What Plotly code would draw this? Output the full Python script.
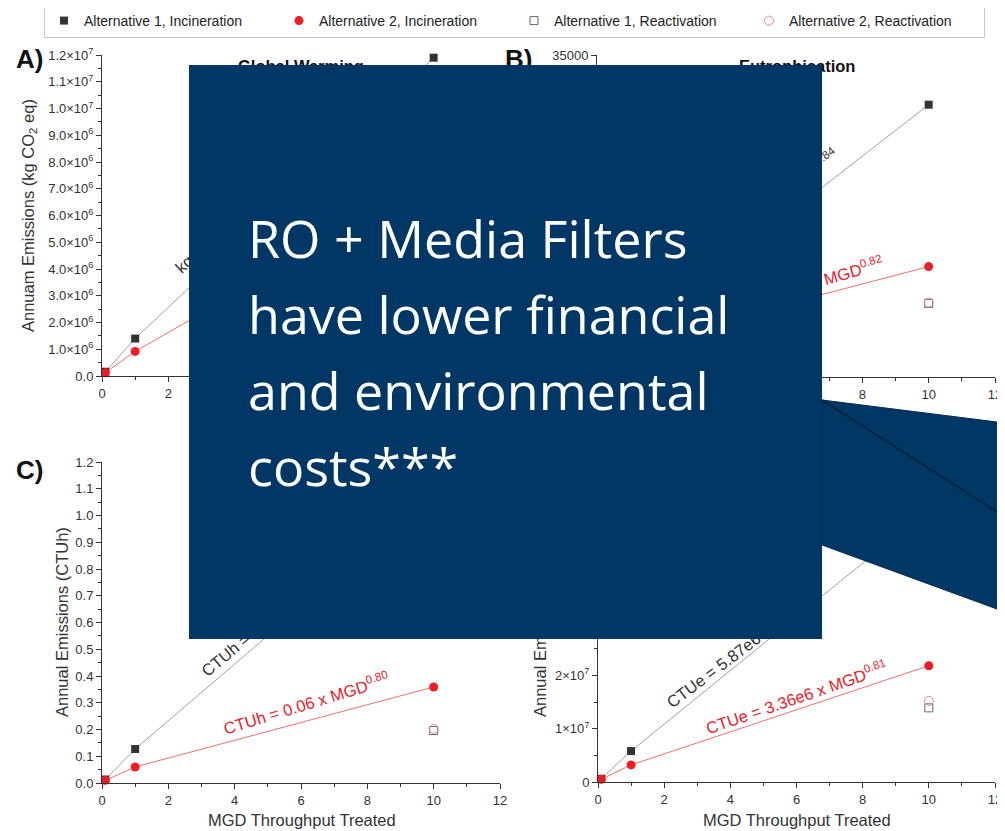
import plotly.graph_objects as go

# the page body keeps its default 8px margin, so the figure is drawn 8px in
OFF = 8
W, H = 1005 - OFF, 831 - OFF

# throughput (MGD) at which each alternative was evaluated
mgd = [0.1, 1, 10]
mgd_react = [10]

# A) Global Warming, kg CO2 eq per year
gw_alt1_inc = [1.6e5, 1.40e6, 1.19e7]
gw_alt2_inc = [1.2e5, 0.92e6, 7.3e6]
gw_alt1_react = [4.6e6]
gw_alt2_react = [4.8e6]

# B) Eutrophication, kg N eq per year
eu_alt1_inc = [600, 4400, 29600]
eu_alt2_inc = [400, 3500, 12000]
eu_alt1_react = [8000]
eu_alt2_react = [8100]

# C) Human toxicity, CTUh per year
hh_alt1_inc = [0.013, 0.127, 1.08]
hh_alt2_inc = [0.010, 0.060, 0.359]
hh_alt1_react = [0.196]
hh_alt2_react = [0.202]

# D) Ecotoxicity, CTUe per year
ec_alt1_inc = [6.0e5, 5.8e6, 5.11e7]
ec_alt2_inc = [5.0e5, 3.2e6, 2.18e7]
ec_alt1_react = [1.39e7]
ec_alt2_react = [1.52e7]

series_names = ['Alternative 1, Incineration', 'Alternative 2, Incineration',
                'Alternative 1, Reactivation', 'Alternative 2, Reactivation']

x_ticks = [0, 2, 4, 6, 8, 10, 12]
gw_ticks = [i * 1e6 for i in range(13)]
gw_labels = ['0.0'] + [f'{i}.0×10<sup>6</sup>' for i in range(1, 10)] + \
            ['1.0×10<sup>7</sup>', '1.1×10<sup>7</sup>', '1.2×10<sup>7</sup>']
eu_ticks = [0, 5000, 10000, 15000, 20000, 25000, 30000, 35000]
eu_labels = [str(v) for v in eu_ticks]
hh_ticks = [i / 10 for i in range(13)]
hh_labels = [f'{v:.1f}' for v in hh_ticks]
ec_ticks = [i * 1e7 for i in range(7)]
ec_labels = ['0'] + [f'{i}×10<sup>7</sup>' for i in range(1, 7)]

callout_lines = ['RO + Media Filters', 'have lower financial',
                 'and environmental', 'costs***']

FONT = 'Liberation Sans, Arial, sans-serif'
AX = '#333333'
NAVY = '#003764'


def px(x):
    return (x - OFF) / W


def py(y):
    return 1 - (y - OFF) / H


panels = [
    dict(key='', xdom=(102, 500), ydom=(55, 376), ymax=1.2e7, minor=5e5,
         ticks=gw_ticks, labels=gw_labels,
         data=(gw_alt1_inc, gw_alt2_inc, gw_alt1_react, gw_alt2_react)),
    dict(key='2', xdom=(597, 995), ydom=(55, 377), ymax=35000, minor=2500,
         ticks=eu_ticks, labels=eu_labels,
         data=(eu_alt1_inc, eu_alt2_inc, eu_alt1_react, eu_alt2_react)),
    dict(key='3', xdom=(102, 500), ydom=(462, 783), ymax=1.2, minor=0.05,
         ticks=hh_ticks, labels=hh_labels,
         data=(hh_alt1_inc, hh_alt2_inc, hh_alt1_react, hh_alt2_react)),
    dict(key='4', xdom=(598, 995), ydom=(462, 782), ymax=6e7, minor=5e6,
         ticks=ec_ticks, labels=ec_labels,
         data=(ec_alt1_inc, ec_alt2_inc, ec_alt1_react, ec_alt2_react)),
]

markers = [
    dict(symbol='square', size=8, color='#333333'),
    dict(symbol='circle', size=9, color='#ee1c25'),
    dict(symbol='square-open', size=8, color='#666666', line=dict(width=1)),
    dict(symbol='circle-open', size=9, color='#e08a8f', line=dict(width=1)),
]
line_colors = ['#a0a0a0', '#f07070']

fig = go.Figure()
layout_axes = {}
for i, p in enumerate(panels):
    xa, ya = 'x' + p['key'], 'y' + p['key']
    a1, a2, r1, r2 = p['data']
    for vals, col in ((a1, line_colors[0]), (a2, line_colors[1])):
        fig.add_trace(go.Scatter(x=mgd, y=vals, mode='lines', xaxis=xa, yaxis=ya,
                                 line=dict(color=col, width=1), showlegend=False,
                                 hoverinfo='skip'))
    for j, (xs, vals) in enumerate(((mgd, a1), (mgd, a2), (mgd_react, r1), (mgd_react, r2))):
        fig.add_trace(go.Scatter(x=xs, y=vals, mode='markers', xaxis=xa, yaxis=ya,
                                 name=series_names[j], legendgroup=series_names[j],
                                 showlegend=(i == 0), marker=markers[j], cliponaxis=False))

    layout_axes['xaxis' + p['key']] = dict(
        domain=[px(p['xdom'][0]), px(p['xdom'][1])], anchor=ya, range=[0, 12],
        tickvals=x_ticks, ticks='outside', ticklen=5, tickcolor=AX, showline=True,
        linecolor=AX, linewidth=1, showgrid=False, zeroline=False,
        tickfont=dict(size=13, color=AX),
        minor=dict(ticks='outside', ticklen=3, dtick=1, tickcolor=AX, showgrid=False))
    layout_axes['yaxis' + p['key']] = dict(
        domain=[py(p['ydom'][1]), py(p['ydom'][0])], anchor=xa, range=[0, p['ymax']],
        tickvals=p['ticks'], ticktext=p['labels'], ticks='outside', ticklen=5,
        tickcolor=AX, showline=True, linecolor=AX, linewidth=1, showgrid=False,
        zeroline=False, tickfont=dict(size=13, color=AX),
        minor=dict(ticks='outside', ticklen=3, dtick=p['minor'], tickcolor=AX, showgrid=False))


def note(text, x, y, size=16.5, color=AX, angle=0, bold=False, **kw):
    if bold:
        text = f'<b>{text}</b>'
    d = dict(text=text, x=px(x), y=py(y), xref='paper', yref='paper', showarrow=False,
             textangle=angle, font=dict(size=size, color=color, family=FONT),
             xanchor='center', yanchor='middle')
    d.update(kw)
    return d


annotations = [
    # axis titles
    note('Annuam Emissions (kg CO<sub>2</sub> eq)', 29, 216, angle=-90),
    note('Annual Emissions (kg N eq)', 540, 216, angle=-90),
    note('Annual Emissions (CTUh)', 62, 622, angle=-90),
    note('Annual Emissions (CTUe)', 540, 622, angle=-90),
    note('MGD Throughput Treated', 302, 820),
    note('MGD Throughput Treated', 797, 820),
    # panel titles and letters
    note('Global Warming', 301, 66, bold=True, color='#111'),
    note('Eutrophication', 797, 66, bold=True, color='#111'),
    note('A)', 29, 59, size=26, bold=True, color='#111'),
    note('B)', 518, 59, size=26, bold=True, color='#111'),
    note('C)', 29, 470, size=26, bold=True, color='#111'),
    note('D)', 518, 470, size=26, bold=True, color='#111'),
    # fitted equations
    note('kg CO<sub>2</sub> eq = 1.40e6 x MGD<sup>0.93</sup>', 261, 195, angle=-42),
    note('kg CO<sub>2</sub> eq = 0.93e6 x MGD<sup>0.82</sup>', 330, 300, angle=-20, color='#e8202a'),
    note('kg N eq = 4.28e3 x MGD<sup>0.84</sup>', 754, 214, angle=-37),
    note('kg N eq = 1.82e3 x MGD<sup>0.82</sup>', 784, 290, angle=-16, color='#e8202a'),
    note('CTUh = 0.13 x MGD<sup>0.93</sup>', 269, 617, angle=-40),
    note('CTUh = 0.06 x MGD<sup>0.80</sup>', 306, 703, angle=-17, color='#e8202a'),
    note('CTUe = 5.87e6 x MGD<sup>0.94</sup>', 744, 646, angle=-37),
    note('CTUe = 3.36e6 x MGD<sup>0.81</sup>', 796, 697, angle=-19, color='#e8202a'),
    # callout box (drawn after the labels so it covers them)
    dict(text=' ', x=px(189), y=py(65), xref='paper', yref='paper', showarrow=False,
         xanchor='left', yanchor='top', width=633, height=574, bgcolor=NAVY,
         borderpad=0, borderwidth=0),
]
for k, line in enumerate(callout_lines):
    annotations.append(dict(text=line, x=px(246), y=py(237 + 76 * k), xref='paper',
                            yref='paper', showarrow=False, xanchor='left', yanchor='middle',
                            font=dict(family='Open Sans', size=52, color='white')))

shapes = [
    dict(type='path', xref='paper', yref='paper',
         path=f'M {px(822)} {py(400)} L 1 {py(423)} L 1 {py(612)} '
              f'L {px(822)} {py(545)} Z',
         fillcolor=NAVY, line=dict(color='#0b2a4a', width=1)),
    dict(type='line', xref='paper', yref='paper', x0=px(822), y0=py(400),
         x1=1, y1=py(517), line=dict(color='#0a1f38', width=1.5)),
]

fig.update_layout(
    width=W, height=H, margin=dict(l=0, r=0, t=0, b=0, autoexpand=False),
    paper_bgcolor='white', plot_bgcolor='white',
    font=dict(family=FONT, color=AX),
    showlegend=True,
    legend=dict(orientation='h', x=px(44), y=py(4), xanchor='left', yanchor='top',
                bordercolor='#c8c8c8', borderwidth=1, font=dict(size=14, color='#222'),
                entrywidth=190, itemwidth=30, bgcolor='white'),
    annotations=annotations, shapes=shapes,
    **layout_axes,
)

fig.write_html('out.html')
